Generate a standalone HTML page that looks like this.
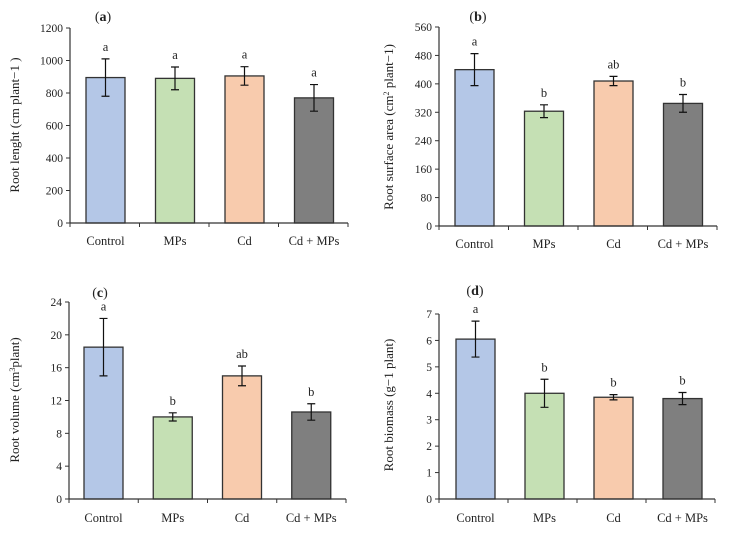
<!DOCTYPE html>
<html><head><meta charset="utf-8"><style>
body{margin:0;background:#fff;}
svg text{font-family:"Liberation Serif",serif;fill:#222;}
</style></head><body>
<svg id="chart" width="729" height="533" xmlns="http://www.w3.org/2000/svg"></svg>
<script>
const categories=["Control","MPs","Cd","Cd + MPs"];
const colors=["#b4c7e7","#c5e0b4","#f8cbad","#7f7f7f"];
const aValues=[895,890,905,770];
const aErrors=[115,70,57,82];
const aLetters=["a","a","a","a"];
const aTicks=[0,200,400,600,800,1000,1200];
const bValues=[440,323,408,345];
const bErrors=[45,18,13,25];
const bLetters=["a","b","ab","b"];
const bTicks=[0,80,160,240,320,400,480,560];
const cValues=[18.5,10,15,10.6];
const cErrors=[3.5,0.5,1.2,1];
const cLetters=["a","b","ab","b"];
const cTicks=[0,4,8,12,16,20,24];
const dValues=[6.05,4.0,3.85,3.8];
const dErrors=[0.68,0.53,0.1,0.23];
const dLetters=["a","b","b","b"];
const dTicks=[0,1,2,3,4,5,6,7];

const NS="http://www.w3.org/2000/svg";
const svg=document.getElementById('chart');
function mk(tag,attrs,parent,text){const e=document.createElementNS(NS,tag);for(const k in attrs)e.setAttribute(k,attrs[k]);if(text!==undefined)e.textContent=text;parent.appendChild(e);return e;}

function panel(id,label,title,ax,y0,yTop,xEnd,barL,values,errors,letters,ticks,labelY,labelX,labelYpos,titleX,titleY,fs){
  const g=mk('g',{},svg);
  
  
  const max=ticks[ticks.length-1];
  const ys=v=>y0-(v/max)*(y0-yTop);
  const slot=(xEnd-ax)/categories.length;
  const xs=i=>barL+i*slot;
  const bw=39;
  ticks.forEach(t=>{
    const y=ys(t);
    const tl=mk('line',{x1:ax-4,x2:ax,y1:y,y2:y,stroke:'#333','stroke-width':1},g);
    
    
    const tt=mk('text',{x:ax-7,y:y+4,'text-anchor':'end','font-size':11.5},g,String(t));
    
    
  });
  values.forEach((v,i)=>{
    const x=xs(i);
    const r=mk('rect',{x:x,y:ys(v),width:bw,height:y0-ys(v),fill:colors[i],stroke:'#333','stroke-width':1.3},g);
    
    
    const cx=x+bw/2,hi=ys(v+errors[i]),lo=ys(v-errors[i]);
    const eb=mk('path',{d:`M${cx},${hi}V${lo}M${cx-4},${hi}H${cx+4}M${cx-4},${lo}H${cx+4}`,stroke:'#111','stroke-width':1.2,fill:'none'},g);
    
    
    const lt=mk('text',{x:cx,y:hi-8,'text-anchor':'middle','font-size':12.5},g,letters[i]);
    
    
    const cl=mk('text',{x:cx,y:labelY,'text-anchor':'middle','font-size':12.5},g,categories[i]);
    
    
  });
  for(let i=0;i<=categories.length;i++){
    const tk=mk('line',{x1:ax+i*slot,x2:ax+i*slot,y1:y0,y2:y0+4,stroke:'#333','stroke-width':1},g);
    
    
  }
  const xa=mk('line',{x1:ax,x2:xEnd,y1:y0,y2:y0,stroke:'#333','stroke-width':1.2},g);
  
  
  const ya=mk('line',{x1:ax,x2:ax,y1:yTop,y2:y0,stroke:'#333','stroke-width':1.2},g);
  
  
  const yt=mk('text',{x:0,y:0,'text-anchor':'middle','font-size':fs,transform:`translate(${labelX},${labelYpos}) rotate(-90)`},g);
  yt.innerHTML=title;
  
  
  const pl=mk('text',{x:titleX,y:titleY,'text-anchor':'middle','font-size':14},g);
  pl.innerHTML='(<tspan font-weight="bold">'+label+'</tspan>)';
  
  
}
panel('a','a','Root lenght (cm plant−1 )',70,223,28,348,86,aValues,aErrors,aLetters,aTicks,245,19,125,103,21,13);
panel('b','b','Root surface area (cm<tspan baseline-shift="super" font-size="8">2</tspan> plant−1)',439,226,27,717,455,bValues,bErrors,bLetters,bTicks,248,393,127,478,21,13);
panel('c','c','Root volume (cm<tspan baseline-shift="super" font-size="8">3</tspan>plant)',69,499,302,346,84,cValues,cErrors,cLetters,cTicks,522,19,400,100,297,13);
panel('d','d','Root biomass (g−1 plant)',439,499,314,715,456,dValues,dErrors,dLetters,dTicks,522,393,405,475,295,13);
</script>
</body></html>
